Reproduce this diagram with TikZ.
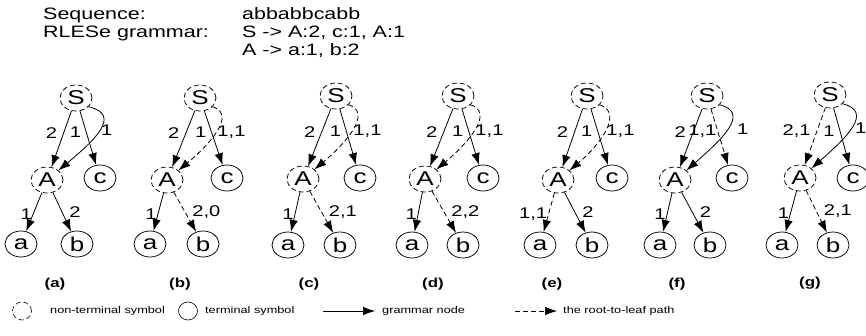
\documentclass[tikz,border=0pt]{standalone}
\usepackage{fontspec}
\setmainfont{Liberation Sans}[FakeStretch=1.3]
\usetikzlibrary{shapes.geometric,arrows.meta}
\tikzset{
  nt/.style={ellipse,draw,dash pattern=on 5pt off 3pt,line width=0.75pt,minimum width=32pt,minimum height=26pt,inner sep=0pt,font=\fontsize{20}{20}\selectfont},
  tm/.style={ellipse,draw,line width=0.75pt,minimum width=32pt,minimum height=26pt,inner sep=0pt,font=\fontsize{20}{20}\selectfont},
  gr/.style={-{Latex[length=12pt,width=8.5pt]},line width=0.8pt},
  rp/.style={gr,dash pattern=on 5pt off 3pt},
  el/.style={font=\fontsize{15.5}{15.5}\selectfont,inner sep=0pt},
  sub/.style={font=\bfseries\fontsize{13}{13}\selectfont,inner sep=0pt},
  tt/.style={font=\fontsize{16.5}{16.5}\selectfont,inner sep=0pt,anchor=base west},
  lg/.style={font=\fontsize{9.8}{9.8}\selectfont,inner sep=0pt,anchor=west},
}
\begin{document}
\begin{tikzpicture}[x=1pt,y=1pt]
\useasboundingbox (0,0) rectangle (866,-335);
% title
\node[tt] (seq) at (43,-19) {Sequence:};
\node[tt] (seqv) at (242,-19) {abbabbcabb};
\node[tt] (rle) at (43,-37) {RLESe grammar:};
\node[tt] (rle1) at (242,-37) {S -> A:2, c:1, A:1};
\node[tt] (rle2) at (242,-55) {A -> a:1, b:2};

% (a)
\node[nt] (Sa) at (76,-98) {S};
\node[nt] (Aa) at (47,-180) {A};
\node[tm] (ca) at (100,-178) {c};
\node[tm] (aa) at (21,-244) {a};
\node[tm] (ba) at (77,-244) {b};
\node[sub] (la) at (55,-284) {(a)};
\draw[gr] (Sa) -- (Aa) node[el,pos=.4,left=6pt]{2};
\draw[gr] (Sa) -- (ca) node[el,pos=.4,left=5pt]{1};
\draw[gr] (Sa.-35) .. controls +(34,-8) and +(36,30) .. (Aa.40) node[el,pos=.5,right=1pt]{1};
\draw[gr] (Aa) -- (aa) node[el,pos=.55,left=1pt]{1};
\draw[gr] (Aa) -- (ba) node[el,pos=.5,right=7pt]{2};

% (b)
\node[nt] (Sb) at (200,-98) {S};
\node[nt] (Ab) at (167,-180) {A};
\node[tm] (cb) at (227,-178) {c};
\node[tm] (ab) at (150,-244) {a};
\node[tm] (bb) at (203,-244) {b};
\node[sub] (lb) at (180,-284) {(b)};
\draw[gr] (Sb) -- (Ab) node[el,pos=.4,left=6pt]{2};
\draw[gr] (Sb) -- (cb) node[el,pos=.4,left=5pt]{1};
\draw[rp] (Sb.-35) .. controls +(25,-8) and +(30,25) .. (Ab.40) node[el,pos=.5,right=1pt]{1,1};
\draw[gr] (Ab) -- (ab) node[el,pos=.55,left=1pt]{1};
\draw[rp] (Ab) -- (bb) node[el,pos=.5,right=7pt]{2,0};

% (c)
\node[nt] (Sc) at (336,-96) {S};
\node[nt] (Ac) at (303,-179) {A};
\node[tm] (cc) at (360,-178) {c};
\node[tm] (ac) at (288,-245) {a};
\node[tm] (bc) at (340,-245) {b};
\node[sub] (lc) at (309,-284) {(c)};
\draw[gr] (Sc) -- (Ac) node[el,pos=.4,left=6pt]{2};
\draw[gr] (Sc) -- (cc) node[el,pos=.4,left=5pt]{1};
\draw[rp] (Sc.-35) .. controls +(25,-8) and +(30,25) .. (Ac.40) node[el,pos=.5,right=1pt]{1,1};
\draw[gr] (Ac) -- (ac) node[el,pos=.55,left=1pt]{1};
\draw[rp] (Ac) -- (bc) node[el,pos=.5,right=7pt]{2,1};

% (d)
\node[nt] (Sd) at (458,-96) {S};
\node[nt] (Ad) at (425,-179) {A};
\node[tm] (cd) at (483,-178) {c};
\node[tm] (ad) at (412,-245) {a};
\node[tm] (bd) at (463,-245) {b};
\node[sub] (ld) at (433,-284) {(d)};
\draw[gr] (Sd) -- (Ad) node[el,pos=.4,left=6pt]{2};
\draw[gr] (Sd) -- (cd) node[el,pos=.4,left=5pt]{1};
\draw[rp] (Sd.-35) .. controls +(25,-8) and +(30,25) .. (Ad.40) node[el,pos=.5,right=1pt]{1,1};
\draw[gr] (Ad) -- (ad) node[el,pos=.55,left=1pt]{1};
\draw[rp] (Ad) -- (bd) node[el,pos=.5,right=7pt]{2,2};

% (e)
\node[nt] (Se) at (587,-96) {S};
\node[nt] (Ae) at (558,-180) {A};
\node[tm] (ce) at (612,-178) {c};
\node[tm] (ae) at (540,-245) {a};
\node[tm] (be) at (592,-245) {b};
\node[sub] (le) at (552,-284) {(e)};
\draw[gr] (Se) -- (Ae) node[el,pos=.4,left=6pt]{2};
\draw[gr] (Se) -- (ce) node[el,pos=.4,left=5pt]{1};
\draw[rp] (Se.-35) .. controls +(25,-8) and +(30,25) .. (Ae.40) node[el,pos=.5,right=1pt]{1,1};
\draw[rp] (Ae) -- (ae) node[el,pos=.55,left=1pt]{1,1};
\draw[gr] (Ae) -- (be) node[el,pos=.5,right=7pt]{2};

% (f)
\node[nt] (Sf) at (707,-96) {S};
\node[nt] (Af) at (675,-180) {A};
\node[tm] (cf) at (732,-178) {c};
\node[tm] (af) at (660,-245) {a};
\node[tm] (bf) at (710,-245) {b};
\node[sub] (lf) at (677,-284) {(f)};
\draw[gr] (Sf) -- (Af) node[el,pos=.4,left=7pt]{2};
\draw[rp] (Sf) -- (cf) node[el,pos=.4,left=1pt]{1,1};
\draw[gr] (Sf.-35) .. controls +(32,-8) and +(34,30) .. (Af.40) node[el,pos=.5,right=9pt]{1};
\draw[gr] (Af) -- (af) node[el,pos=.55,left=1pt]{1};
\draw[gr] (Af) -- (bf) node[el,pos=.5,right=7pt]{2};

% (g)
\node[nt] (Sg) at (830,-95) {S};
\node[nt] (Ag) at (800,-178) {A};
\node[tm] (cg) at (853,-178) {c};
\node[tm] (ag) at (782,-245) {a};
\node[tm] (bg) at (833,-245) {b};
\node[sub] (lg) at (810,-283) {(g)};
\draw[rp] (Sg) -- (Ag) node[el,pos=.4,left=6pt]{2,1};
\draw[gr] (Sg) -- (cg) node[el,pos=.4,left=5pt]{1};
\draw[gr] (Sg.-35) .. controls +(32,-8) and +(34,30) .. (Ag.40) node[el,pos=.5,right=3pt]{1};
\draw[gr] (Ag) -- (ag) node[el,pos=.55,left=1pt]{1};
\draw[rp] (Ag) -- (bg) node[el,pos=.5,right=7pt]{2,1};

% legend
\node[nt,minimum width=19pt,minimum height=18pt,line width=0.6pt] (lnt) at (22,-311) {};
\node[lg] (lntt) at (50,-311) {non-terminal symbol};
\node[tm,minimum width=19pt,minimum height=18pt,line width=0.6pt] (ltm) at (188,-311) {};
\node[lg] (ltmt) at (205,-311) {terminal symbol};
\coordinate (l1s) at (323,-311);
\coordinate (l1e) at (375,-311);
\draw[gr,line width=0.6pt] (l1s) -- (l1e);
\node[lg] (lgrt) at (382,-311) {grammar node};
\coordinate (l2s) at (515,-311);
\coordinate (l2e) at (557,-311);
\draw[rp,line width=0.6pt] (l2s) -- (l2e);
\node[lg] (lrpt) at (563,-311) {the root-to-leaf path};
\end{tikzpicture}
\end{document}
